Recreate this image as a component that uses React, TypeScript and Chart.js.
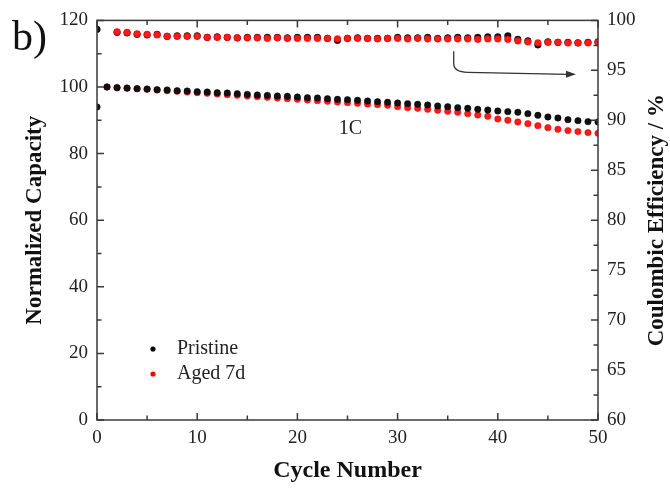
import React, { useEffect, useRef } from 'react';
import { Chart, registerables } from 'chart.js';
Chart.register(...registerables);

const capCycles = [0, 1, 2, 3, 4, 5, 6, 7, 8, 9, 10, 11, 12, 13, 14, 15, 16, 17, 18, 19, 20, 21, 22, 23, 24, 25, 26, 27, 28, 29, 30, 31, 32, 33, 34, 35, 36, 37, 38, 39, 40, 41, 42, 43, 44, 45, 46, 47, 48, 49, 50];
const pristineCap = [94.0, 100.0, 99.8, 99.7, 99.5, 99.4, 99.2, 99.1, 98.9, 98.8, 98.6, 98.5, 98.3, 98.2, 98.0, 97.8, 97.6, 97.5, 97.3, 97.2, 97.0, 96.8, 96.7, 96.5, 96.3, 96.2, 96.0, 95.8, 95.6, 95.4, 95.2, 95.0, 94.8, 94.6, 94.3, 94.1, 93.8, 93.6, 93.3, 93.1, 92.8, 92.6, 92.4, 92.0, 91.5, 91.0, 90.7, 90.2, 89.9, 89.6, 89.5];
const agedCapCycles = [1, 2, 3, 4, 5, 6, 7, 8, 9, 10, 11, 12, 13, 14, 15, 16, 17, 18, 19, 20, 21, 22, 23, 24, 25, 26, 27, 28, 29, 30, 31, 32, 33, 34, 35, 36, 37, 38, 39, 40, 41, 42, 43, 44, 45, 46, 47, 48, 49, 50];
const agedCap = [100.0, 99.8, 99.6, 99.5, 99.3, 99.1, 98.9, 98.7, 98.5, 98.3, 98.1, 97.9, 97.7, 97.5, 97.3, 97.1, 96.9, 96.7, 96.5, 96.3, 96.1, 95.9, 95.7, 95.5, 95.3, 95.1, 94.9, 94.7, 94.5, 94.1, 93.8, 93.6, 93.3, 93.0, 92.7, 92.4, 92.0, 91.6, 91.2, 90.4, 90.0, 89.5, 89.0, 88.4, 87.8, 87.3, 86.9, 86.6, 86.3, 86.1];

const pristineCECycles = [0, 2, 3, 4, 5, 6, 7, 8, 9, 10, 11, 12, 13, 14, 15, 16, 17, 18, 19, 20, 21, 22, 23, 24, 25, 26, 27, 28, 29, 30, 31, 32, 33, 34, 35, 36, 37, 38, 39, 40, 41, 42, 43, 44, 45, 46, 47, 48, 49, 50];
const pristineCE = [99.1, 98.8, 98.75, 98.6, 98.55, 98.6, 98.4, 98.45, 98.45, 98.45, 98.3, 98.35, 98.3, 98.25, 98.3, 98.3, 98.3, 98.3, 98.25, 98.3, 98.3, 98.3, 98.2, 98.0, 98.2, 98.25, 98.2, 98.2, 98.2, 98.3, 98.25, 98.25, 98.3, 98.2, 98.25, 98.3, 98.25, 98.3, 98.35, 98.35, 98.45, 98.1, 97.95, 97.55, 97.85, 97.8, 97.8, 97.75, 97.8, 97.85];
const agedCECycles = [2, 3, 4, 5, 6, 7, 8, 9, 10, 11, 12, 13, 14, 15, 16, 17, 18, 19, 20, 21, 22, 23, 24, 25, 26, 27, 28, 29, 30, 31, 32, 33, 34, 35, 36, 37, 38, 39, 40, 41, 42, 43, 44, 45, 46, 47, 48, 49, 50];
const agedCE = [98.85, 98.8, 98.65, 98.6, 98.55, 98.4, 98.4, 98.4, 98.4, 98.3, 98.3, 98.3, 98.25, 98.25, 98.25, 98.2, 98.25, 98.2, 98.2, 98.2, 98.2, 98.2, 98.15, 98.2, 98.2, 98.2, 98.15, 98.2, 98.2, 98.15, 98.2, 98.15, 98.15, 98.15, 98.15, 98.15, 98.1, 98.15, 98.15, 98.1, 97.95, 97.85, 97.75, 97.8, 97.8, 97.75, 97.75, 97.75, 97.8];

const xTicks = [0, 10, 20, 30, 40, 50];
const leftTicks = [0, 20, 40, 60, 80, 100, 120];
const rightTicks = [60, 65, 70, 75, 80, 85, 90, 95, 100];

const SERIF = '"Liberation Serif", "Times New Roman", serif';

const toPts = (xs: number[], ys: number[]) => xs.map((x, i) => ({ x, y: ys[i] }));

const decorPlugin = {
  id: 'decor',
  afterDraw(chart: any) {
    const { ctx, chartArea: a, scales } = chart;
    const xs = scales.x, ys = scales.y, y2 = scales.y2;
    ctx.save();
    ctx.strokeStyle = '#3a3a3a';
    ctx.lineWidth = 1.5;
    ctx.strokeRect(a.left, a.top, a.right - a.left, a.bottom - a.top);
    const major = 7, minor = 4.5;
    ctx.beginPath();
    // x ticks (bottom and top)
    for (let i = 0; i < xTicks.length; i++) {
      const v = xTicks[i];
      const px = xs.getPixelForValue(v);
      ctx.moveTo(px, a.bottom); ctx.lineTo(px, a.bottom - major);
      ctx.moveTo(px, a.top); ctx.lineTo(px, a.top + major);
      if (i < xTicks.length - 1) {
        const m = xs.getPixelForValue((v + xTicks[i + 1]) / 2);
        ctx.moveTo(m, a.bottom); ctx.lineTo(m, a.bottom - minor);
        ctx.moveTo(m, a.top); ctx.lineTo(m, a.top + minor);
      }
    }
    for (let i = 0; i < leftTicks.length; i++) {
      const v = leftTicks[i];
      const py = ys.getPixelForValue(v);
      ctx.moveTo(a.left, py); ctx.lineTo(a.left + major, py);
      if (i < leftTicks.length - 1) {
        const m = ys.getPixelForValue((v + leftTicks[i + 1]) / 2);
        ctx.moveTo(a.left, m); ctx.lineTo(a.left + minor, m);
      }
    }
    for (let i = 0; i < rightTicks.length; i++) {
      const v = rightTicks[i];
      const py = y2.getPixelForValue(v);
      ctx.moveTo(a.right, py); ctx.lineTo(a.right - major, py);
      if (i < rightTicks.length - 1) {
        const m = y2.getPixelForValue((v + rightTicks[i + 1]) / 2);
        ctx.moveTo(a.right, m); ctx.lineTo(a.right - minor, m);
      }
    }
    ctx.stroke();

    // arrow
    const sx = xs.getPixelForValue(35.6);
    const sy = y2.getPixelForValue(96.9);
    const cy = y2.getPixelForValue(94.8);
    const ex = xs.getPixelForValue(47.8);
    const ey = y2.getPixelForValue(94.6);
    ctx.strokeStyle = '#333';
    ctx.lineWidth = 1.3;
    ctx.beginPath();
    ctx.moveTo(sx, sy);
    ctx.lineTo(sx, cy - 9);
    ctx.quadraticCurveTo(sx, cy, sx + 14, cy);
    ctx.lineTo(ex - 8, ey);
    ctx.stroke();
    ctx.fillStyle = '#333';
    ctx.beginPath();
    ctx.moveTo(ex, ey);
    ctx.lineTo(ex - 10, ey - 3.5);
    ctx.lineTo(ex - 10, ey + 3.5);
    ctx.closePath();
    ctx.fill();

    // titles
    ctx.fillStyle = '#111';
    ctx.font = `bold 23px ${SERIF}`;
    ctx.textAlign = 'center';
    ctx.textBaseline = 'middle';
    const midY = (a.top + a.bottom) / 2;
    ctx.save();
    ctx.translate(35, midY);
    ctx.rotate(-Math.PI / 2);
    ctx.fillText('Normalized Capacity', 0, 0);
    ctx.restore();
    ctx.save();
    ctx.translate(657, midY);
    ctx.rotate(-Math.PI / 2);
    ctx.fillText('Coulombic Efficiency / %', 0, 0);
    ctx.restore();
    ctx.font = `bold 24px ${SERIF}`;
    ctx.fillText('Cycle Number', (a.left + a.right) / 2, 471);

    ctx.font = `42px ${SERIF}`;
    ctx.textAlign = 'left';
    ctx.textBaseline = 'alphabetic';
    ctx.fillText('b)', 12, 50);

    ctx.font = `20px ${SERIF}`;
    ctx.textAlign = 'center';
    ctx.textBaseline = 'middle';
    ctx.fillStyle = '#222';
    ctx.fillText('1C', xs.getPixelForValue(25.3), ys.getPixelForValue(87.5));

    // legend
    const lx = 153;
    const items = [{ t: 'Pristine', c: '#000', y: 349 }, { t: 'Aged 7d', c: '#ff0000', y: 374 }];
    ctx.textAlign = 'left';
    for (const it of items) {
      ctx.fillStyle = it.c;
      ctx.beginPath();
      ctx.arc(lx, it.y, 2.6, 0, Math.PI * 2);
      ctx.fill();
      ctx.fillStyle = '#222';
      ctx.font = `20px ${SERIF}`;
      ctx.fillText(it.t, 177, it.y);
    }
    ctx.restore();
  },
};

export default function App() {
  const ref = useRef<HTMLCanvasElement | null>(null);
  useEffect(() => {
    if (!ref.current) return;
    const tickFont = { family: SERIF, size: 19 };
    const chart = new Chart(ref.current, {
      type: 'scatter',
      data: {
        datasets: [
          { label: 'Aged 7d CE', data: toPts(agedCECycles, agedCE), yAxisID: 'y2', backgroundColor: '#ff1a1a', borderColor: '#e00000', pointRadius: 3.3, borderWidth: 0.5, order: 0 },
          { label: 'Pristine CE', data: toPts(pristineCECycles, pristineCE), yAxisID: 'y2', backgroundColor: '#111', borderColor: '#000', pointRadius: 3.3, borderWidth: 0.5, order: 1 },
          { label: 'Pristine', data: toPts(capCycles, pristineCap), yAxisID: 'y', backgroundColor: '#111', borderColor: '#000', pointRadius: 3.2, borderWidth: 0.5, order: 2 },
          { label: 'Aged 7d', data: toPts(agedCapCycles, agedCap), yAxisID: 'y', backgroundColor: '#ff1a1a', borderColor: '#e00000', pointRadius: 3.2, borderWidth: 0.5, order: 3 },
        ],
      },
      options: {
        animation: false,
        responsive: true,
        maintainAspectRatio: false,
        layout: { padding: { top: 19, left: 0, right: 0, bottom: 0 } },
        plugins: { legend: { display: false }, tooltip: { enabled: false } },
        scales: {
          x: {
            type: 'linear', position: 'bottom', min: 0, max: 50,
            afterBuildTicks: (s: any) => { s.ticks = xTicks.map((v) => ({ value: v })); },
            afterFit: (s: any) => { s.height = 68; },
            grid: { display: false, drawTicks: false },
            border: { display: false },
            ticks: { font: tickFont, color: '#222', padding: 7, maxRotation: 0 },
          },
          y: {
            type: 'linear', position: 'left', min: 0, max: 120,
            afterBuildTicks: (s: any) => { s.ticks = leftTicks.map((v) => ({ value: v })); },
            afterFit: (s: any) => { s.width = 97; },
            grid: { display: false, drawTicks: false },
            border: { display: false },
            ticks: { font: tickFont, color: '#222', padding: 9 },
          },
          y2: {
            type: 'linear', position: 'right', min: 60, max: 100,
            afterBuildTicks: (s: any) => { s.ticks = rightTicks.map((v) => ({ value: v })); },
            afterFit: (s: any) => { s.width = 72; },
            grid: { display: false, drawTicks: false },
            border: { display: false },
            ticks: { font: tickFont, color: '#222', padding: 9 },
          },
        },
      },
      plugins: [decorPlugin],
    } as any);
    return () => chart.destroy();
  }, []);
  return (
    <div style={{ position: 'absolute', left: 0, top: 0, width: 670, height: 488, background: '#fff' }}>
      <canvas ref={ref} />
    </div>
  );
}
